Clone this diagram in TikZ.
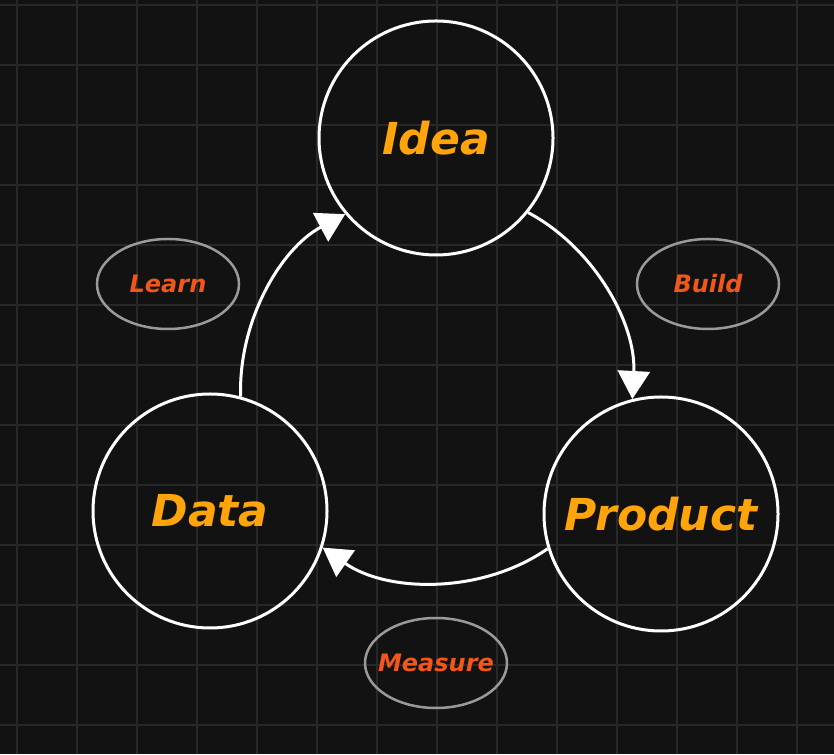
\documentclass[tikz,border=0pt]{standalone}
\usepackage{fontspec}
\setmainfont{DejaVu Sans}
\usetikzlibrary{arrows.meta,shapes.geometric}
\definecolor{bgdark}{HTML}{121212}
\definecolor{gridgray}{HTML}{282828}
\definecolor{stageorange}{HTML}{FFA40A}
\definecolor{steporange}{HTML}{F2561B}
\definecolor{ringgray}{HTML}{9A9A9A}
\tikzset{
  gridline/.style = {draw=gridgray, line width=1.5pt},
  stage/.style    = {draw=white, line width=3pt, circle, inner sep=0pt,
                     minimum size=234pt, text=stageorange,
                     font=\fontsize{44}{44}\selectfont\bfseries\itshape},
  steplabel/.style= {draw=ringgray, line width=2.5pt, ellipse, inner ysep=0pt,
                     inner xsep=-10pt, minimum width=142pt,
                     minimum height=90pt, text=steporange,
                     font=\fontsize{24}{24}\selectfont\bfseries\itshape},
  cycarrow/.style = {-{Triangle[length=28pt,width=32pt]}, draw=white,
                     line width=3pt, looseness=0.9},
}

\begin{document}
\begin{tikzpicture}[x=1pt,y=1pt]
% background and grid
\useasboundingbox (0,0) rectangle (834,754);
\fill[bgdark] (0,0) rectangle (834,754);
\foreach \gx in {17,77,...,797} \draw[gridline] (\gx,0) -- (\gx,754);
\foreach \gy in {29,89,...,749} \draw[gridline] (0,\gy) -- (834,\gy);
% stages
\node[stage] (idea)    at (436,616) {Idea};
\node[stage] (product) at (661,240) {Product};
\node[stage] (data)    at (210,243) {Data};
% steps
\node[steplabel] (build)   at (708,470) {Build};
\node[steplabel] (measure) at (436,91)  {Measure};
\node[steplabel] (learn)   at (168,470) {Learn};
% cycle
\draw[cycarrow] (idea.-39) to[out=-28, in=87] (product.104);
\draw[cycarrow] (product.197) to[out=215, in=-35] (data.-18);
\draw[cycarrow] (data.75) to[out=92, in=208] (idea.220);
\end{tikzpicture}
\end{document}
